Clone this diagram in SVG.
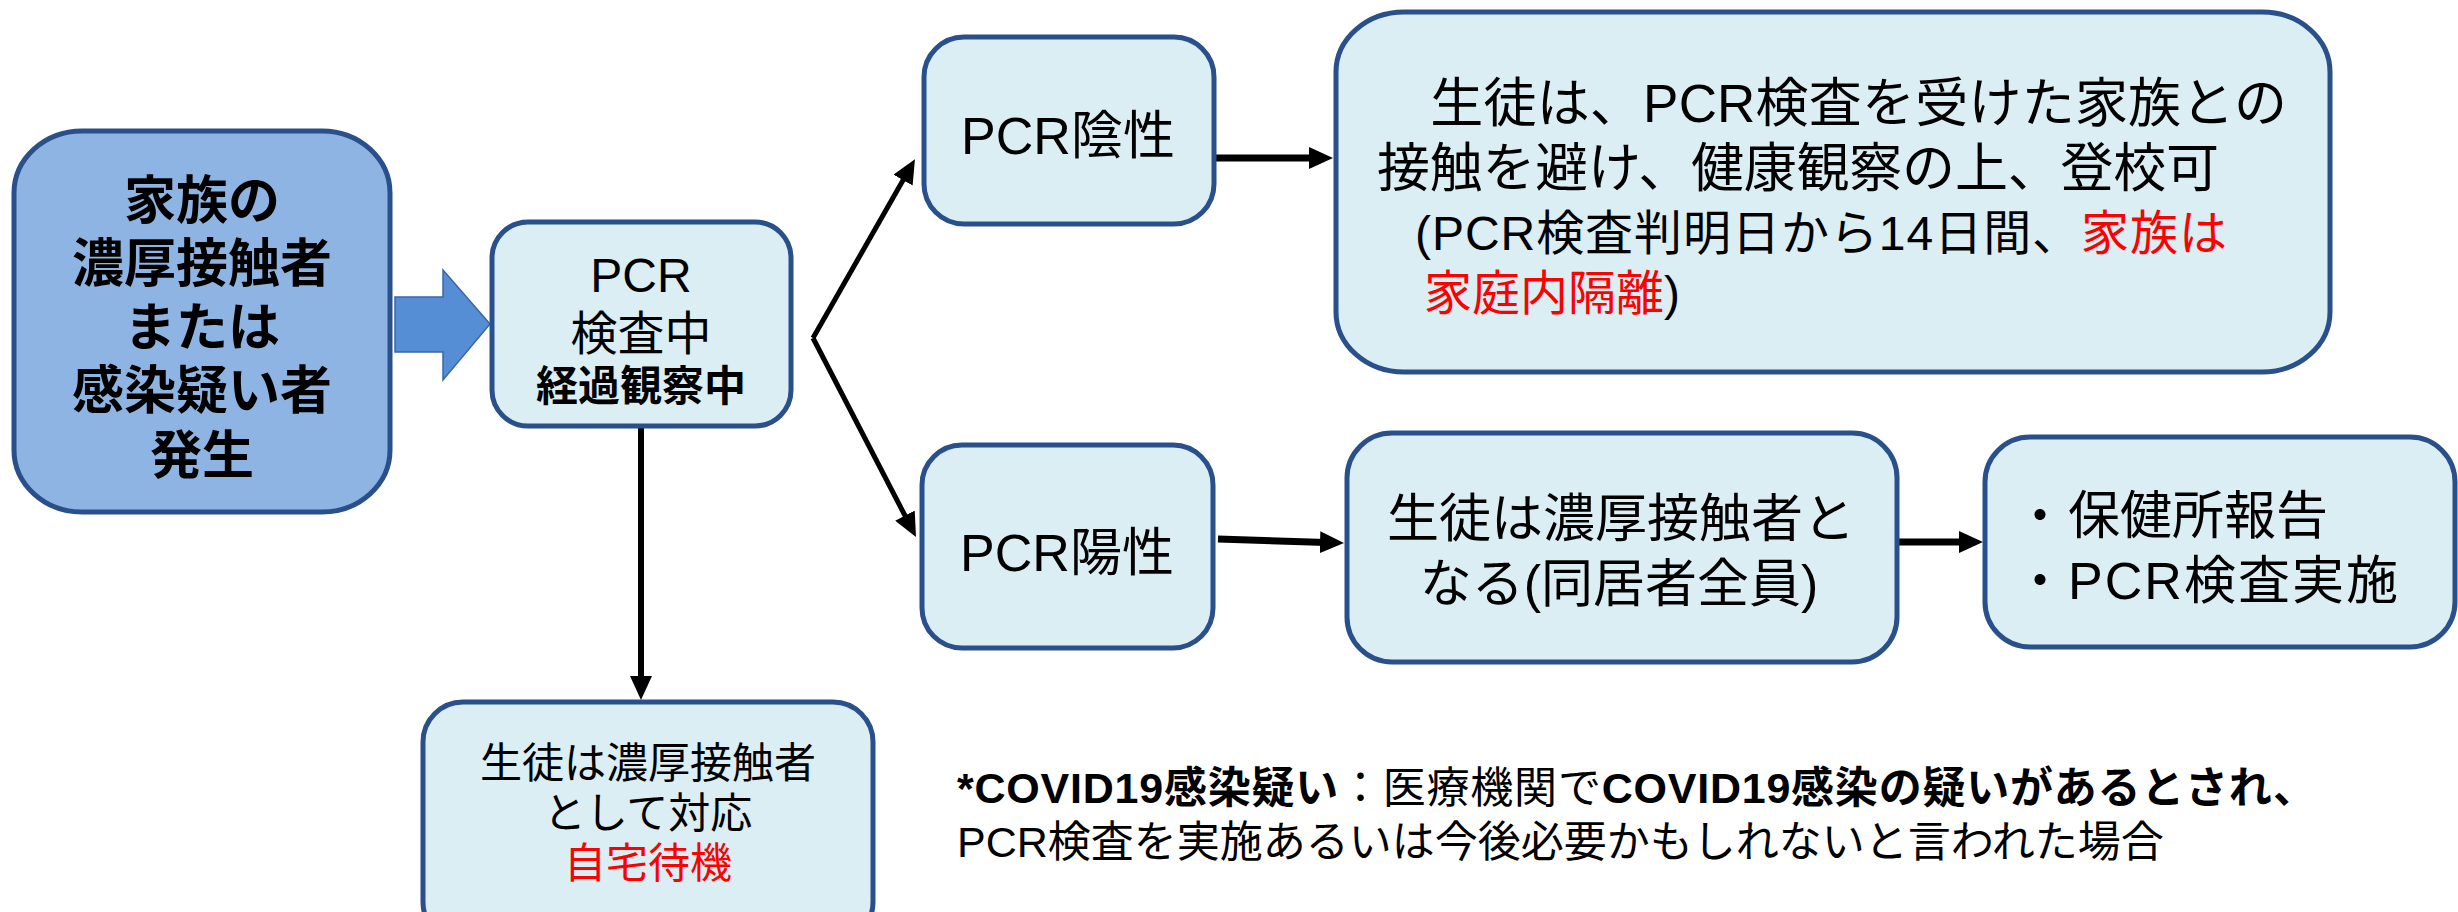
<svg xmlns="http://www.w3.org/2000/svg" width="2458" height="912" viewBox="0 0 2458 912">
<style>
.box{fill:#DBEEF4;stroke:#29508A;stroke-width:5}
.t{font-family:"Liberation Sans","Noto Sans CJK JP",sans-serif;fill:#000}
.b{font-weight:bold}
.red{fill:#FF0000}
.c{text-anchor:middle}
.ln{stroke:#000;fill:none}
</style>
<defs>
<marker id="ah" markerUnits="userSpaceOnUse" markerWidth="24" markerHeight="22" refX="14" refY="11" orient="auto" viewBox="0 0 24 22">
<path d="M0,0 L24,11 L0,22 z" fill="#000"/>
</marker>
</defs>
<rect width="2458" height="912" fill="#fff"/>

<g id="connectors">
<polygon points="395,297 443,297 443,270 490,324 443,380 443,352 395,352" fill="#558ED5" stroke="#3A66A6" stroke-width="1.5"/>
<line class="ln" x1="641" y1="426" x2="641" y2="690" stroke-width="6" marker-end="url(#ah)"/>
<line class="ln" x1="813" y1="338" x2="910" y2="168" stroke-width="5" marker-end="url(#ah)"/>
<line class="ln" x1="813" y1="338" x2="911.4" y2="528" stroke-width="5" marker-end="url(#ah)"/>
<line class="ln" x1="1215" y1="158" x2="1323" y2="158" stroke-width="7" marker-end="url(#ah)"/>
<line class="ln" x1="1218" y1="539" x2="1334" y2="542.7" stroke-width="7" marker-end="url(#ah)"/>
<line class="ln" x1="1899" y1="542" x2="1973" y2="542" stroke-width="7" marker-end="url(#ah)"/>
</g>

<g id="node-family">
<rect x="14" y="131" width="376" height="381" rx="68" ry="62" fill="#8EB4E3" stroke="#29508A" stroke-width="5"/>
<text class="t b c" font-size="52" x="202" y="219">家族の</text>
<text class="t b c" font-size="52" x="202" y="282">濃厚接触者</text>
<text class="t b c" font-size="52" x="202" y="346">または</text>
<text class="t b c" font-size="52" x="202" y="409">感染疑い者</text>
<text class="t b c" font-size="52" x="202" y="474">発生</text>
</g>

<g id="node-pcr-testing">
<rect class="box" x="492" y="222" width="299" height="204" rx="36" ry="36"/>
<text class="t c" font-size="48" x="641" y="292">PCR</text>
<text class="t c" font-size="47" x="641" y="350">検査中</text>
<text class="t b c" font-size="42" x="641" y="401">経過観察中</text>
</g>

<g id="node-stay-home">
<rect class="box" x="423" y="702" width="450" height="240" rx="40" ry="40"/>
<text class="t c" font-size="42" x="648" y="778">生徒は濃厚接触者</text>
<text class="t c" font-size="42" x="648" y="828">として対応</text>
<text class="t c red" font-size="42" x="648" y="878">自宅待機</text>
</g>

<g id="node-negative">
<rect class="box" x="924" y="37" width="290" height="187" rx="40" ry="40"/>
<text class="t c" font-size="52" x="1068" y="154">PCR陰性</text>
</g>

<g id="node-negative-result">
<rect class="box" x="1336" y="12" width="994" height="360" rx="68" ry="60"/>
<text class="t" font-size="53" x="1377" y="122" textLength="910">　生徒は、PCR検査を受けた家族との</text>
<text class="t" font-size="53" x="1377" y="187" textLength="842">接触を避け、健康観察の上、登校可</text>
<text class="t" font-size="48" x="1415" y="250" textLength="812">(PCR検査判明日から14日間、<tspan class="red">家族は</tspan></text>
<text class="t" font-size="48" x="1424" y="310"><tspan class="red">家庭内隔離</tspan>)</text>
</g>

<g id="node-positive">
<rect class="box" x="922" y="445" width="291" height="203" rx="40" ry="40"/>
<text class="t c" font-size="52" x="1067" y="571">PCR陽性</text>
</g>

<g id="node-close-contact">
<rect class="box" x="1347" y="433" width="550" height="229" rx="45" ry="45"/>
<text class="t c" font-size="52" x="1621" y="537">生徒は濃厚接触者と</text>
<text class="t c" font-size="52" x="1619" y="602">なる(同居者全員)</text>
</g>

<g id="node-report">
<rect class="box" x="1985" y="437" width="470" height="210" rx="45" ry="45"/>
<text class="t c" font-size="52" x="2040" y="534">・</text>
<text class="t" font-size="52" x="2068" y="534">保健所報告</text>
<text class="t c" font-size="52" x="2040" y="599">・</text>
<text class="t" font-size="52" x="2068" y="599" textLength="330">PCR検査実施</text>
</g>

<g id="footnote">
<text class="t" font-size="43" x="957" y="803" textLength="1359"><tspan class="b">*COVID19感染疑い</tspan>：医療機関で<tspan class="b">COVID19感染の疑いがあるとされ、</tspan></text>
<text class="t" font-size="43" x="957" y="857">PCR検査を実施あるいは今後必要かもしれないと言われた場合</text>
</g>
</svg>
